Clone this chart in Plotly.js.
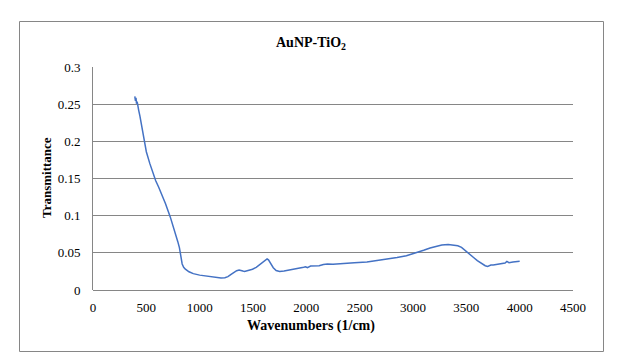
<!DOCTYPE html>
<html>
<head>
<meta charset="utf-8">
<script src="https://cdn.plot.ly/plotly-3.0.1.min.js"></script>
<style>html,body{margin:0;padding:0;background:#fff;}#chart{width:620px;height:361px;}</style>
</head>
<body>
<div id="chart"></div>
<script>
const wavenumbers = [392, 398, 403, 408, 414, 420, 428, 440, 455, 477, 500, 533, 560, 588, 615, 644, 680, 725, 750, 773, 795, 810, 825, 836, 850, 866, 900, 940, 1000, 1051, 1100, 1162, 1200, 1236, 1265, 1291, 1320, 1347, 1370, 1384, 1405, 1421, 1460, 1495, 1530, 1569, 1600, 1632, 1645, 1660, 1690, 1717, 1750, 1791, 1850, 1902, 1950, 1975, 1994, 2010, 2040, 2087, 2120, 2160, 2198, 2250, 2346, 2450, 2568, 2650, 2753, 2850, 2938, 3000, 3049, 3100, 3160, 3220, 3270, 3330, 3381, 3420, 3455, 3490, 3529, 3565, 3603, 3640, 3677, 3700, 3730, 3752, 3800, 3830, 3863, 3880, 3900, 3937, 3970, 4000];
const transmittance = [0.2605, 0.2545, 0.2585, 0.2505, 0.2535, 0.2470, 0.2420, 0.2340, 0.2220, 0.2010, 0.1860, 0.1700, 0.1580, 0.1470, 0.1385, 0.1290, 0.1160, 0.0980, 0.0870, 0.0750, 0.0650, 0.0570, 0.0450, 0.0350, 0.0305, 0.0280, 0.0245, 0.0220, 0.0200, 0.0190, 0.0178, 0.0162, 0.0160, 0.0166, 0.0180, 0.0206, 0.0235, 0.0260, 0.0270, 0.0268, 0.0255, 0.0250, 0.0265, 0.0280, 0.0305, 0.0345, 0.0375, 0.0417, 0.0405, 0.0370, 0.0300, 0.0262, 0.0250, 0.0255, 0.0268, 0.0280, 0.0292, 0.0305, 0.0312, 0.0300, 0.0322, 0.0327, 0.0325, 0.0343, 0.0350, 0.0348, 0.0360, 0.0365, 0.0377, 0.0392, 0.0417, 0.0437, 0.0460, 0.0485, 0.0507, 0.0535, 0.0565, 0.0590, 0.0605, 0.0612, 0.0608, 0.0595, 0.0574, 0.0535, 0.0484, 0.0440, 0.0395, 0.0355, 0.0327, 0.0318, 0.0335, 0.0336, 0.0345, 0.0355, 0.0363, 0.0385, 0.0368, 0.0377, 0.0382, 0.0386];

const xTickVals = [0, 500, 1000, 1500, 2000, 2500, 3000, 3500, 4000, 4500];
const yTickVals = [0, 0.05, 0.1, 0.15, 0.2, 0.25, 0.3];
const yTickText = ['0', '0.05', '0.1', '0.15', '0.2', '0.25', '0.3'];

const chartTitle = 'AuNP-TiO<sub>2</sub>';
const xTitle = 'Wavenumbers (1/cm)';
const yTitle = 'Transmittance';

const serif = 'Liberation Serif, Times New Roman, serif';
const gridCol = '#868686';

const trace = {
  x: wavenumbers,
  y: transmittance,
  type: 'scatter',
  mode: 'lines',
  line: {color: '#4472C4', width: 1.5},
  hoverinfo: 'skip'
};

const layout = {
  width: 620,
  height: 361,
  margin: {l: 93, r: 47, t: 67, b: 71, pad: 0},
  paper_bgcolor: '#ffffff',
  plot_bgcolor: '#ffffff',
  showlegend: false,
  font: {family: serif, size: 13, color: '#000000'},
  title: {
    text: '<b>' + chartTitle + '</b>',
    font: {family: serif, size: 14, color: '#000000'},
    xref: 'container', x: 311 / 620, xanchor: 'center',
    yref: 'container', y: 1 - 42 / 361, yanchor: 'middle'
  },
  xaxis: {
    range: [0, 4500],
    tickvals: xTickVals,
    ticktext: xTickVals.map(String),
    showgrid: false,
    zeroline: false,
    showline: false,
    ticks: '',
    ticklabelstandoff: 8,
    tickfont: {family: serif, size: 13, color: '#000000'},
    fixedrange: true
  },
  yaxis: {
    range: [0, 0.3],
    tickvals: yTickVals,
    ticktext: yTickText,
    showgrid: true,
    gridcolor: gridCol,
    gridwidth: 1,
    zeroline: true,
    zerolinecolor: gridCol,
    zerolinewidth: 1,
    showline: true,
    linecolor: gridCol,
    linewidth: 1,
    ticks: '',
    ticklabelstandoff: 9,
    tickfont: {family: serif, size: 13, color: '#000000'},
    fixedrange: true
  },
  shapes: [{
    type: 'rect', xref: 'paper', yref: 'paper',
    x0: (19.5 - 93) / 480, x1: (603.5 - 93) / 480,
    y0: (290 - 351.5) / 223, y1: (290 - 21.5) / 223,
    line: {color: gridCol, width: 1}, fillcolor: 'rgba(0,0,0,0)', layer: 'below'
  }],
  annotations: [
    {
      text: '<b>' + xTitle + '</b>', xref: 'paper', yref: 'paper',
      x: (311 - 93) / 480, y: (290 - 326) / 223, xanchor: 'center', yanchor: 'middle',
      showarrow: false, font: {family: serif, size: 14, color: '#000000'}
    },
    {
      text: '<b>' + yTitle + '</b>', xref: 'paper', yref: 'paper',
      x: (46 - 93) / 480, y: (290 - 178) / 223, xanchor: 'center', yanchor: 'middle',
      textangle: -90, showarrow: false, font: {family: serif, size: 13, color: '#000000'}
    }
  ]
};

Plotly.newPlot('chart', [trace], layout, {displayModeBar: false, staticPlot: true});
</script>
</body>
</html>
